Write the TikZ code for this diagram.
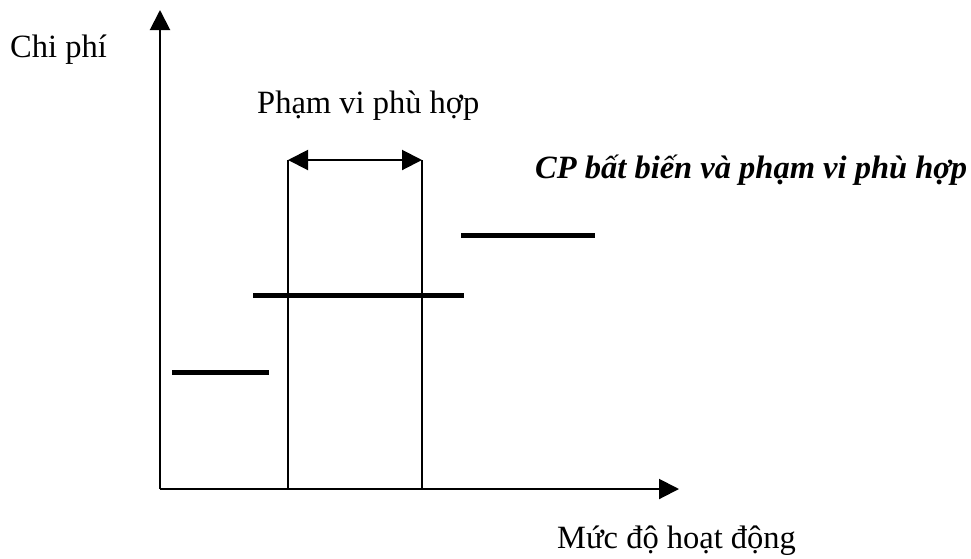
\documentclass[tikz,border=0pt]{standalone}
\usepackage{fontspec}
\setmainfont{Liberation Serif}
\usetikzlibrary{arrows.meta}
\tikzset{
  axis/.style={line width=2pt, -{Triangle[length=20pt,width=20pt]}},
  thin line/.style={line width=2pt},
  costline/.style={line width=5pt},
  rangearrow/.style={line width=2pt, {Triangle[length=20pt,width=20pt]}-{Triangle[length=20pt,width=20pt]}},
  lbl/.style={font=\fontsize{32.5}{38}\selectfont, inner sep=0pt, anchor=base west},
}
\begin{document}
\begin{tikzpicture}[x=1pt,y=-1pt]
\useasboundingbox (0,0) rectangle (971,558);
% axes
\coordinate (O) at (160,489);
\coordinate (ytip) at (160,10);
\coordinate (xtip) at (679,489);
\draw[axis] (O) -- (ytip);
\draw[axis] (O) -- (xtip);
% relevant range
\coordinate (La) at (288,160);
\coordinate (Lb) at (288,489);
\coordinate (Ra) at (422,160);
\coordinate (Rb) at (422,489);
\draw[thin line] (La) -- (Lb);
\draw[thin line] (Ra) -- (Rb);
\draw[rangearrow] (La) -- (Ra);
% fixed cost steps
\coordinate (s1a) at (172,372);
\coordinate (s1b) at (269,372);
\coordinate (s2a) at (253,295);
\coordinate (s2b) at (464,295);
\coordinate (s3a) at (461,235);
\coordinate (s3b) at (595,235);
\draw[costline] (s1a) -- (s1b);
\draw[costline] (s2a) -- (s2b);
\draw[costline] (s3a) -- (s3b);
% labels
\node[lbl] (cp) at (10,57) {Chi phí};
\node[lbl] (pv) at (257,113) {Phạm vi phù hợp};
\node[lbl] (title) at (535,178) {\bfseries\itshape CP bất biến và phạm vi phù hợp};
\node[lbl] (md) at (557,548) {Mức độ hoạt động};
\end{tikzpicture}
\end{document}
